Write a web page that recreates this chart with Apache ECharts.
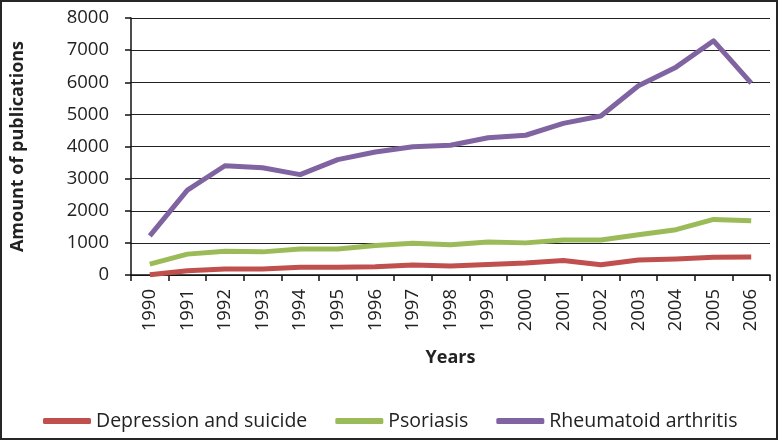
<!DOCTYPE html>
<html>
<head>
<meta charset="utf-8">
<script src="https://cdn.jsdelivr.net/npm/echarts@6/dist/echarts.min.js"></script>
<style>
html,body{margin:0;padding:0;background:#fff;}
#chart{width:778px;height:440px;}
</style>
</head>
<body>
<div id="chart"></div>
<script>
const years = ['1990','1991','1992','1993','1994','1995','1996','1997','1998','1999','2000','2001','2002','2003','2004','2005','2006'];
const depressionSuicide = [10,135,190,190,240,240,260,310,280,330,375,450,320,470,500,550,560];
const psoriasis = [340,650,740,720,810,810,920,990,940,1030,1000,1090,1090,1250,1410,1730,1690];
const rheumatoidArthritis = [1220,2640,3400,3340,3125,3590,3830,3990,4040,4270,4350,4720,4950,5890,6470,7290,5970];
const seriesNames = ['Depression and suicide','Psoriasis','Rheumatoid arthritis'];
const yTicks = {min:0, max:8000, interval:1000};

const FONT = '"Open Sans", sans-serif';
const chart = echarts.init(document.getElementById('chart'), null, {renderer:'canvas'});
const colors = ['#C0504D','#9BBB59','#8064A2'];
chart.setOption({
  animation:false,
  color: colors,
  textStyle:{fontFamily:FONT},
  graphic:[{type:'rect', shape:{x:1,y:1,width:776,height:438}, style:{fill:'none', stroke:'#262626', lineWidth:2}, silent:true, z:100}],
  grid:{left:131, right:8, top:18, bottom:165, containLabel:false},
  legend:{
    left:38, top:406, itemWidth:48, itemHeight:6, itemGap:28, icon:'roundRect',
    textStyle:{fontFamily:FONT, fontSize:19.5, color:'#222'},
    data: seriesNames
  },
  xAxis:{
    type:'category', data: years, boundaryGap:true,
    name:'Years', nameLocation:'middle', nameGap:74,
    nameTextStyle:{fontFamily:FONT, fontSize:18, fontWeight:'bold', color:'#222'},
    axisLine:{lineStyle:{color:'#111', width:1.5}},
    axisTick:{show:true, length:6, lineStyle:{color:'#111', width:1.5}},
    axisLabel:{rotate:90, fontSize:18.5, color:'#222', margin:14, fontFamily:FONT, interval:0}
  },
  yAxis:{
    type:'value', min:yTicks.min, max:yTicks.max, interval:yTicks.interval,
    name:'Amount of publications', nameLocation:'middle', nameGap:104, nameRotate:90,
    nameTextStyle:{fontFamily:FONT, fontSize:18, fontWeight:'bold', color:'#222'},
    axisLine:{show:true, lineStyle:{color:'#111', width:1.5}},
    axisTick:{show:true, length:6, lineStyle:{color:'#111', width:1.5}},
    splitLine:{lineStyle:{color:'#222', width:1.2}},
    axisLabel:{fontSize:18.5, color:'#222', margin:22, fontFamily:FONT, formatter:function(v){return String(v);}}
  },
  series:[
    {name:seriesNames[0], type:'line', data:depressionSuicide, symbol:'none', lineStyle:{width:5, color:colors[0], join:'round'}},
    {name:seriesNames[1], type:'line', data:psoriasis, symbol:'none', lineStyle:{width:5, color:colors[1], join:'round'}},
    {name:seriesNames[2], type:'line', data:rheumatoidArthritis, symbol:'none', lineStyle:{width:5, color:colors[2], join:'round'}}
  ]
});
</script>
</body>
</html>
